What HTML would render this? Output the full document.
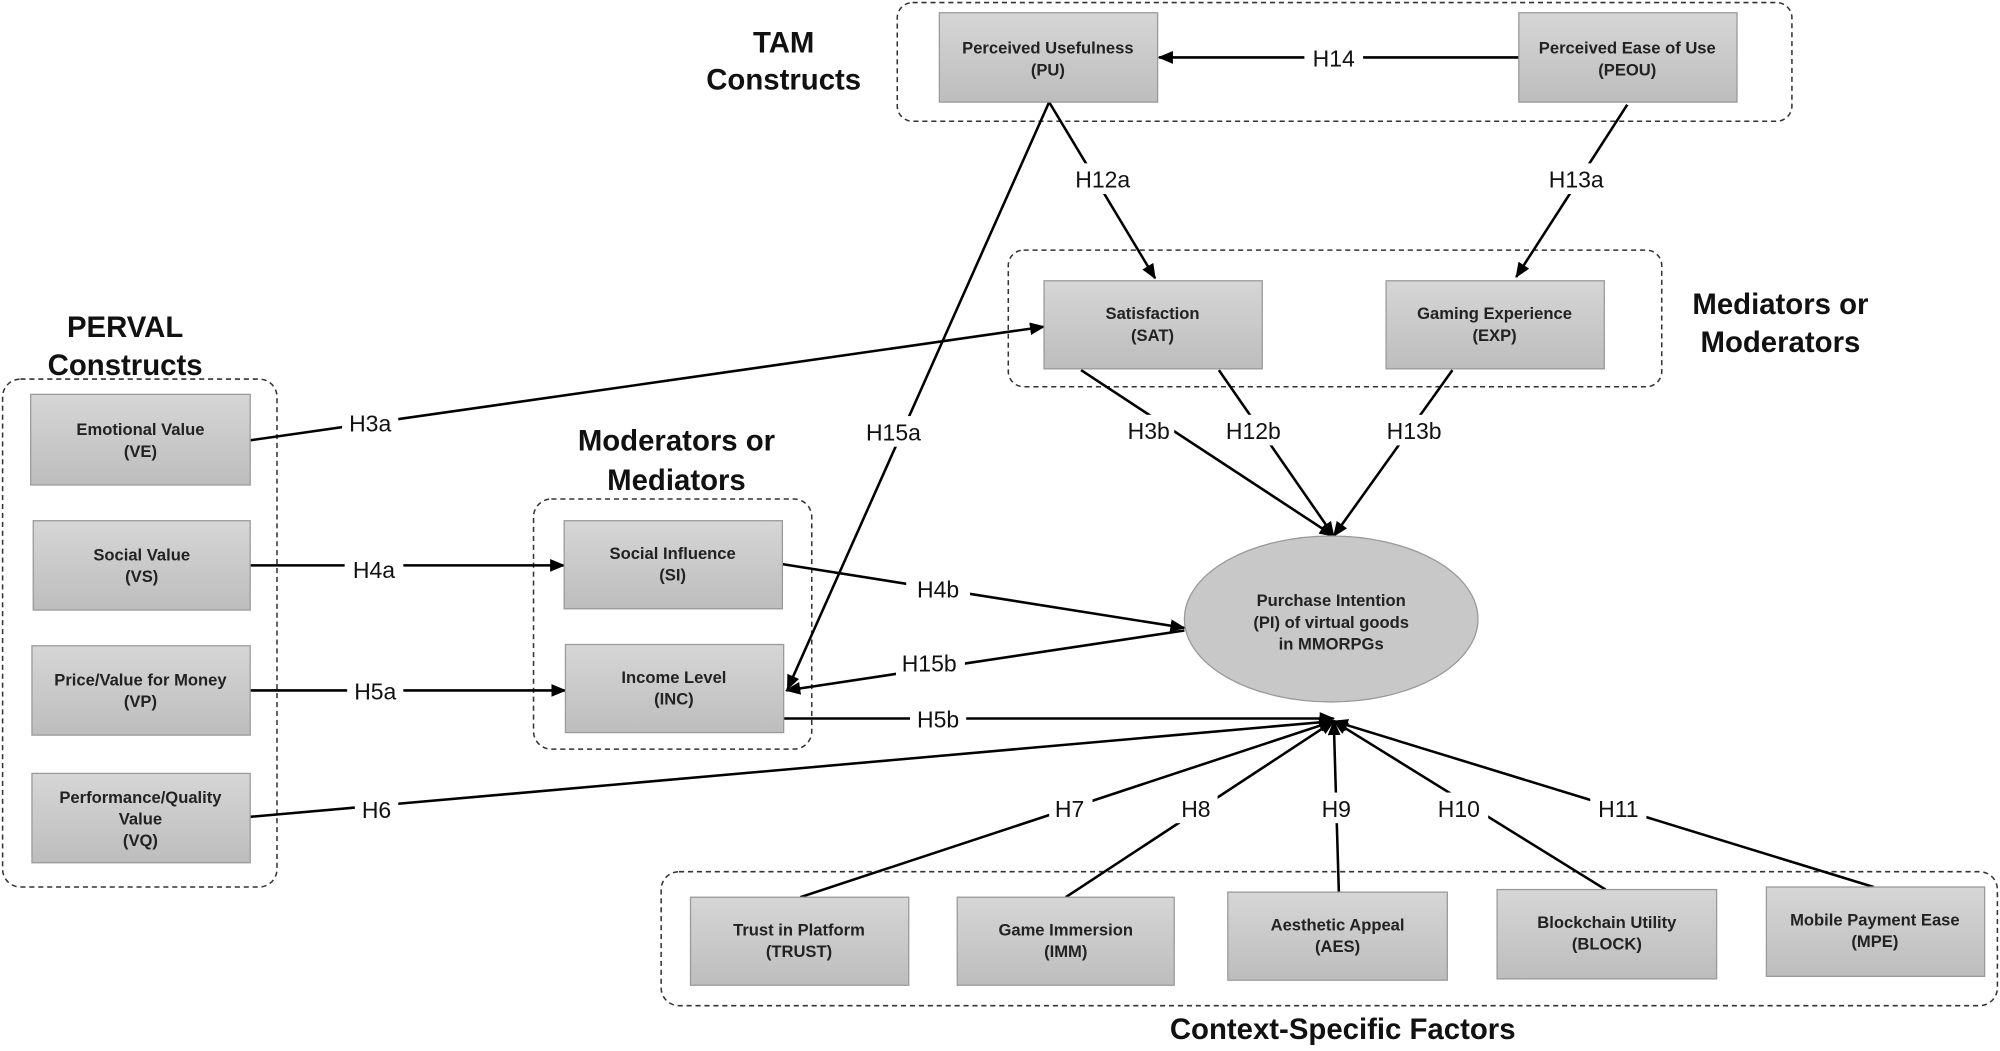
<!DOCTYPE html>
<html><head><meta charset="utf-8"><style>html,body{margin:0;padding:0;background:#fff}svg{display:block}</style></head>
<body>
<svg width="2000" height="1051" viewBox="0 0 1567 823.5" xmlns="http://www.w3.org/2000/svg" font-family="Liberation Sans, Arial, sans-serif">
<defs>
<linearGradient id="g" x1="0" y1="0" x2="0" y2="1"><stop offset="0" stop-color="#d6d6d6"/><stop offset="1" stop-color="#bdbdbd"/></linearGradient>
<marker id="a" markerWidth="12" markerHeight="10" refX="11" refY="5" orient="auto" markerUnits="userSpaceOnUse"><path d="M0,0 L12,5 L0,10 z" fill="#000"/></marker>
</defs>
<g fill="none" stroke="#333" stroke-width="1.2" stroke-dasharray="4,3">
<rect x="2" y="297" width="215" height="398" rx="14"/>
<rect x="418" y="391" width="218" height="196" rx="14"/>
<rect x="703" y="2" width="701" height="93" rx="12"/>
<rect x="790" y="196" width="512" height="107" rx="12"/>
<rect x="518" y="683" width="1047" height="105" rx="14"/>
</g>
<g font-weight="bold" font-size="23" text-anchor="middle" fill="#111">
<text x="98" y="264">PERVAL</text><text x="98" y="294">Constructs</text>
<text x="530" y="353">Moderators or</text><text x="530" y="384">Mediators</text>
<text x="614" y="41">TAM</text><text x="614" y="70">Constructs</text>
<text x="1395" y="246">Mediators or</text><text x="1395" y="276">Moderators</text>
<text x="1052" y="814">Context-Specific Factors</text>
</g>
<g stroke="#000" stroke-width="2" fill="none">
<line x1="1190" y1="45" x2="908" y2="45" marker-end="url(#a)"/>
<line x1="822" y1="80" x2="905" y2="218" marker-end="url(#a)"/>
<line x1="1275" y1="82" x2="1188" y2="217" marker-end="url(#a)"/>
<line x1="822" y1="80" x2="617" y2="540" marker-end="url(#a)"/>
<line x1="196" y1="345" x2="818" y2="256" marker-end="url(#a)"/>
<line x1="196" y1="443" x2="442" y2="443" marker-end="url(#a)"/>
<line x1="196" y1="541" x2="443" y2="541" marker-end="url(#a)"/>
<line x1="613" y1="442" x2="928" y2="492" marker-end="url(#a)"/>
<line x1="928" y1="494" x2="616" y2="541" marker-end="url(#a)"/>
<line x1="614" y1="563" x2="1045" y2="563" marker-end="url(#a)"/>
<line x1="196" y1="640" x2="1045" y2="565" marker-end="url(#a)"/>
<line x1="847" y1="290" x2="1045" y2="420" marker-end="url(#a)"/>
<line x1="955" y1="290" x2="1045" y2="420" marker-end="url(#a)"/>
<line x1="1138" y1="290" x2="1045" y2="420" marker-end="url(#a)"/>
<line x1="627" y1="703" x2="1045" y2="565" marker-end="url(#a)"/>
<line x1="835" y1="703" x2="1045" y2="565" marker-end="url(#a)"/>
<line x1="1049" y1="699" x2="1045" y2="565" marker-end="url(#a)"/>
<line x1="1258" y1="697" x2="1045" y2="565" marker-end="url(#a)"/>
<line x1="1468" y1="695" x2="1045" y2="565" marker-end="url(#a)"/>
</g>
<g font-size="18" text-anchor="middle" fill="#111">
<g fill="#fff"><rect x="1022" y="33" width="46" height="24"/><rect x="840" y="128" width="50" height="24"/><rect x="1210" y="128" width="50" height="24"/><rect x="676" y="326" width="50" height="24"/><rect x="268" y="319" width="44" height="24"/><rect x="270" y="434" width="46" height="24"/><rect x="272" y="529" width="44" height="24"/><rect x="710" y="449" width="50" height="24"/><rect x="702" y="507" width="54" height="24"/><rect x="713" y="551" width="44" height="24"/><rect x="278" y="622" width="34" height="24"/><rect x="880" y="325" width="40" height="24"/><rect x="956" y="325" width="52" height="24"/><rect x="1082" y="325" width="52" height="24"/><rect x="822" y="621" width="34" height="24"/><rect x="920" y="621" width="34" height="24"/><rect x="1030" y="621" width="34" height="24"/><rect x="1122" y="621" width="44" height="24"/><rect x="1246" y="621" width="44" height="24"/></g>
<text x="1045" y="52">H14</text><text x="864" y="147">H12a</text><text x="1235" y="147">H13a</text><text x="700" y="345">H15a</text>
<text x="290" y="338">H3a</text><text x="293" y="453">H4a</text><text x="294" y="548">H5a</text>
<text x="735" y="468">H4b</text><text x="728" y="526">H15b</text><text x="735" y="570">H5b</text><text x="295" y="641">H6</text>
<text x="900" y="344">H3b</text><text x="982" y="344">H12b</text><text x="1108" y="344">H13b</text>
<text x="838" y="640">H7</text><text x="937" y="640">H8</text><text x="1047" y="640">H9</text><text x="1143" y="640">H10</text><text x="1268" y="640">H11</text>
</g>
<ellipse cx="1043" cy="485" rx="115" ry="65" fill="#c8c8c8" stroke="#999"/>
<g font-size="13" font-weight="bold" text-anchor="middle" fill="#222"><text x="1043" y="475">Purchase Intention</text><text x="1043" y="492">(PI) of virtual goods</text><text x="1043" y="509">in MMORPGs</text></g>
<g stroke="#999" fill="url(#g)">
<rect x="24" y="309" width="172" height="71"/><rect x="26" y="408" width="170" height="70"/><rect x="25" y="506" width="171" height="70"/><rect x="25" y="606" width="171" height="70"/>
<rect x="442" y="408" width="171" height="69"/><rect x="443" y="505" width="171" height="69"/>
<rect x="736" y="10" width="171" height="70"/><rect x="1190" y="10" width="171" height="70"/>
<rect x="818" y="220" width="171" height="69"/><rect x="1086" y="220" width="171" height="69"/>
<rect x="541" y="703" width="171" height="69"/><rect x="750" y="703" width="170" height="69"/><rect x="962" y="699" width="172" height="69"/><rect x="1173" y="697" width="172" height="70"/><rect x="1384" y="695" width="171" height="70"/>
</g>
<g font-size="13" font-weight="bold" text-anchor="middle" fill="#222">
<text x="110" y="341">Emotional Value</text><text x="110" y="358">(VE)</text>
<text x="111" y="439">Social Value</text><text x="111" y="456">(VS)</text>
<text x="110" y="537">Price/Value for Money</text><text x="110" y="554">(VP)</text>
<text x="110" y="629">Performance/Quality</text><text x="110" y="646">Value</text><text x="110" y="663">(VQ)</text>
<text x="527" y="438">Social Influence</text><text x="527" y="455">(SI)</text>
<text x="528" y="535">Income Level</text><text x="528" y="552">(INC)</text>
<text x="821" y="42">Perceived Usefulness</text><text x="821" y="59">(PU)</text>
<text x="1275" y="42">Perceived Ease of Use</text><text x="1275" y="59">(PEOU)</text>
<text x="903" y="250">Satisfaction</text><text x="903" y="267">(SAT)</text>
<text x="1171" y="250">Gaming Experience</text><text x="1171" y="267">(EXP)</text>
<text x="626" y="733">Trust in Platform</text><text x="626" y="750">(TRUST)</text>
<text x="835" y="733">Game Immersion</text><text x="835" y="750">(IMM)</text>
<text x="1048" y="729">Aesthetic Appeal</text><text x="1048" y="746">(AES)</text>
<text x="1259" y="727">Blockchain Utility</text><text x="1259" y="744">(BLOCK)</text>
<text x="1469" y="725">Mobile Payment Ease</text><text x="1469" y="742">(MPE)</text>
</g>
</svg>
</body></html>
